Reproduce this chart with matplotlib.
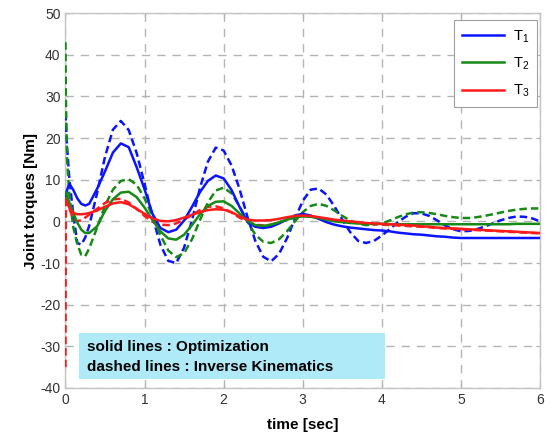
import numpy as np
import matplotlib
matplotlib.use("Agg")
import matplotlib.pyplot as plt
from matplotlib.patches import Rectangle

plt.rcParams['font.family'] = ['Liberation Sans', 'DejaVu Sans']
plt.rcParams['axes.unicode_minus'] = False

# time samples [sec]
t_early = [0.0, 0.005, 0.02, 0.05, 0.1, 0.15, 0.2, 0.25]
t_main = [round(0.3 + 0.1 * i, 2) for i in range(58)]
t = np.array(t_early + t_main)

# T1 - optimization (solid)
T1_opt = [6, 6, 7.5, 9, 7.5, 5.5, 4.2, 3.8,
          4.2, 7.8, 12, 16.5, 18.7, 17.8, 13, 7.7, 1.8, -1.6,
          -2.6, -2.0, 0.2, 3.5, 7.0, 9.7, 11, 10.3, 7.5, 3.5,
          -0.1, -1.3, -1.6, -1.3, -0.5, 0.5, 1.4, 1.8, 1.4, 0.6,
          -0.2, -0.8, -1.2, -1.5, -1.7, -1.9, -2.1, -2.2, -2.4, -2.7,
          -2.9, -3.1, -3.2, -3.4, -3.6, -3.7, -3.9, -4.0, -4.0, -4.0,
          -4.0, -4.0, -4.0, -4.0, -4.0, -4.0, -4.0, -4.0]
# T1 - inverse kinematics (dashed)
T1_ik = [26, 24, 18, 10, 1.5, -5.2, -5.6, -3.9,
         -1.1, 6.8, 15.5, 22, 24.1, 21.9, 16.4, 9, 1.1, -5.6,
         -9.5, -10, -6.3, 0.3, 8, 14.3, 17.7, 17, 13.4, 7.8,
         1.1, -4.7, -8.5, -9.6, -7.8, -4.1, 0.6, 4.9, 7.6, 7.9,
         6.4, 3.6, 0.4, -2.6, -4.7, -5.2, -4.7, -3.4, -1.85, -0.2,
         1.1, 1.95, 1.9, 1.3, 0.2, -1.0, -1.9, -2.4, -2.3, -1.9,
         -1.25, -0.5, 0.25, 0.8, 1.15, 1.1, 0.7, 0.0]
# T2 - optimization (solid)
T2_opt = [7, 7, 6, 4.5, 2, -0.3, -2.0, -2.8,
          -2.8, -1.2, 2.5, 5.3, 6.9, 7.1, 5.8, 3.3, 0.3, -2.4,
          -4.1, -4.4, -3.2, -0.9, 1.7, 3.7, 4.7, 4.8, 3.7, 1.9,
          0.1, -0.9, -1.1, -0.8, -0.2, 0.4, 0.9, 1.2, 1.1, 0.8,
          0.4, 0.0, -0.2, -0.4, -0.5, -0.6, -0.6, -0.6, -0.7, -0.7,
          -0.7, -0.7, -0.7, -0.7, -0.7, -0.7, -0.7, -0.7, -0.7, -0.7,
          -0.7, -0.7, -0.7, -0.7, -0.6, -0.6, -0.6, -0.6]
# T2 - inverse kinematics (dashed)
T2_ik = [43, 30, 15, 6, -1.5, -5.5, -8.0, -8.4,
         -6.5, -1.5, 3.8, 7.6, 9.7, 10.1, 8.8, 5.5, 1.3, -3.3,
         -7.0, -8.6, -7.6, -4.3, 0.3, 4.5, 7.4, 8.1, 6.7, 3.6,
         0.0, -3.2, -4.9, -5.2, -4.3, -2.4, 0.0, 2.2, 3.7, 4.2,
         3.7, 2.6, 1.3, 0.2, -0.6, -0.9, -0.8, -0.5, 0.2, 1.0,
         1.7, 2.1, 2.2, 2.0, 1.7, 1.3, 1.0, 0.8, 0.8, 1.0,
         1.3, 1.7, 2.1, 2.5, 2.8, 3.0, 3.1, 3.1]
# T3 - optimization (solid)
T3_opt = [5, 5, 4.5, 3.2, 2.0, 1.7, 1.7, 1.8,
          2.0, 2.6, 3.5, 4.3, 4.6, 4.1, 3.0, 1.8, 0.7, 0.1,
          0.0, 0.3, 0.9, 1.6, 2.2, 2.7, 2.9, 2.8, 2.2, 1.2,
          0.4, 0.2, 0.2, 0.3, 0.6, 1.0, 1.3, 1.4, 1.3, 1.0,
          0.7, 0.4, 0.2, 0.0, -0.2, -0.4, -0.5, -0.6, -0.7, -0.8,
          -0.9, -1.0, -1.2, -1.3, -1.5, -1.6, -1.7, -1.8, -1.9, -2.0,
          -2.1, -2.2, -2.3, -2.4, -2.5, -2.6, -2.7, -2.8]
# T3 - inverse kinematics (dashed)
T3_ik = [-35, 6, 5, 3, 0.6, 0.0, 0.3, 0.9,
         1.6, 3.0, 4.4, 5.3, 5.4, 4.5, 3.0, 1.3, -0.1, -0.8,
         -0.9, -0.5, 0.4, 1.5, 2.7, 3.5, 3.6, 3.1, 2.1, 0.9,
         -0.1, -0.8, -1.0, -0.8, -0.3, 0.4, 1.0, 1.3, 1.2, 0.9,
         0.6, 0.3, 0.0, -0.2, -0.4, -0.5, -0.7, -0.8, -0.9, -1.0,
         -1.1, -1.2, -1.3, -1.4, -1.6, -1.7, -1.8, -1.9, -2.0, -2.1,
         -2.2, -2.3, -2.4, -2.5, -2.6, -2.7, -2.8, -2.9]

labels = ['$\\mathregular{T_1}$', '$\\mathregular{T_2}$', '$\\mathregular{T_3}$']
colors = ['#0a14ff', '#168a16', '#ff1a1a']

xticks = [0, 1, 2, 3, 4, 5, 6]
yticks = [-40, -30, -20, -10, 0, 10, 20, 30, 40, 50]

fig = plt.figure(figsize=(5.5, 4.34), dpi=100)
ax = fig.add_axes([0.119, 0.106, 0.863, 0.864])

lw = 1.8
dash = (0, (3.0, 1.6))
ax.plot(t, T1_ik, color=colors[0], lw=lw, ls=dash, zorder=3)
ax.plot(t, T2_ik, color=colors[1], lw=lw, ls=dash, zorder=3)
ax.plot(t, T3_ik, color=colors[2], lw=lw, ls=dash, zorder=3)
h1, = ax.plot(t, T1_opt, color=colors[0], lw=lw, zorder=4)
h2, = ax.plot(t, T2_opt, color=colors[1], lw=lw, zorder=4)
h3, = ax.plot(t, T3_opt, color=colors[2], lw=lw, zorder=4)

ax.set_xlim(0, 6)
ax.set_ylim(-40, 50)
ax.set_xticks(xticks)
ax.set_yticks(yticks)
ax.grid(True, color='#b4b4b4', ls=(0, (6, 5)), lw=1.0, zorder=0)
for s in ax.spines.values():
    s.set_color('#c4c4c4')
    s.set_linewidth(1.0)
ax.tick_params(direction='in', length=3, color='#b0b0b0', labelsize=10,
               labelcolor='#333333', top=True, right=True)

ax.set_xlabel('time [sec]', fontsize=11, fontweight='bold', labelpad=8)
ax.set_ylabel('Joint torques [Nm]', fontsize=11, fontweight='bold', labelpad=2)

leg = ax.legend([h1, h2, h3], labels, loc='upper right',
                bbox_to_anchor=(0.994, 0.981), borderaxespad=0.0,
                fontsize=10.5, handlelength=2.9,
                fancybox=False, edgecolor='#a0a0a0', framealpha=1,
                labelspacing=0.75, borderpad=0.55, handletextpad=0.6)
leg.get_frame().set_linewidth(0.8)

ax.add_patch(Rectangle((0.029, 0.023), 0.644, 0.124, transform=ax.transAxes,
                       facecolor='#aeeaf8', edgecolor='none', zorder=5))
ax.text(0.045, 0.110, 'solid lines : Optimization', transform=ax.transAxes,
        fontsize=11, fontweight='bold', va='center', ha='left', zorder=6)
ax.text(0.045, 0.056, 'dashed lines : Inverse Kinematics', transform=ax.transAxes,
        fontsize=11, fontweight='bold', va='center', ha='left', zorder=6)

fig.savefig('out.png', dpi=100)
